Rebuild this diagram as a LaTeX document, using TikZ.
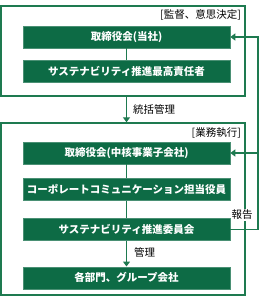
\documentclass[tikz,border=0pt]{standalone}
\usepackage{fontspec}
\newfontfamily\jp{Noto Sans CJK JP}
\usetikzlibrary{arrows.meta,positioning}
\definecolor{cgreen}{HTML}{0D6B45}
\definecolor{cline}{HTML}{1E7A50}

\begin{document}
\begin{tikzpicture}[x=1pt, y=1pt,
    org/.style={fill=cgreen, draw=cgreen!75!white, line width=0.6pt,
      minimum width=207pt, minimum height=22pt, inner sep=0pt,
      font=\jp\bfseries\fontsize{10.5}{12}\selectfont, text=white},
    frame/.style={draw=cline, line width=1.4pt, inner sep=0pt},
    tag/.style={font=\jp\fontsize{10.5}{12}\selectfont, text=black, inner sep=1pt},
    link/.style={cline, line width=1.4pt, line join=miter},
    arr/.style={link, -{Triangle[length=5pt, width=7pt]}}]
  \useasboundingbox (0,0) rectangle (270,-307);

  % the two frames
  \node[frame, minimum width=244pt, minimum height=90pt] (sup) at (123,-51) {};
  \node[frame, minimum width=244pt, minimum height=172pt] (exe) at (123,-209) {};
  \node[tag, anchor=east] (lsup) at (242,-15) {[監督、意思決定]};
  \node[tag, anchor=east] (lexe) at (242,-133) {[業務執行]};

  % boxes
  \node[org] (board) at (126.5,-37) {取締役会(当社)};
  \node[org, below=12pt of board] (cso) {サステナビリティ推進最高責任者};
  \node[org] (subboard) at (126.5,-153) {取締役会(中核事業子会社)};
  \node[org, below=14pt of subboard] (cco) {コーポレートコミュニケーション担当役員};
  \node[org, below=17pt of cco] (committee) {サステナビリティ推進委員会};
  \node[org, below=26pt of committee] (groups) {各部門、グループ会社};

  \draw[link] (board) -- (cso);
  \draw[link] (subboard) -- (cco);
  \draw[link] (cco) -- (committee);
  \draw[arr] (committee) -- (groups);
  \draw[arr] (sup.south -| board) -- (exe.north -| board);
  \node[tag, anchor=west] (lctl) at (132,-110) {統括管理};
  \node[tag, anchor=west] (lmgt) at (133,-252) {管理};

  % report line
  \coordinate (rpt) at (258,0);
  \draw[arr] (committee.east) -| (rpt |- board.east) -- (board.east);
  \draw[arr] (rpt |- subboard.east) -- (subboard.east);
  \node[tag, fill=white] (lrpt) at (242,-215) {報告};
\end{tikzpicture}
\end{document}
